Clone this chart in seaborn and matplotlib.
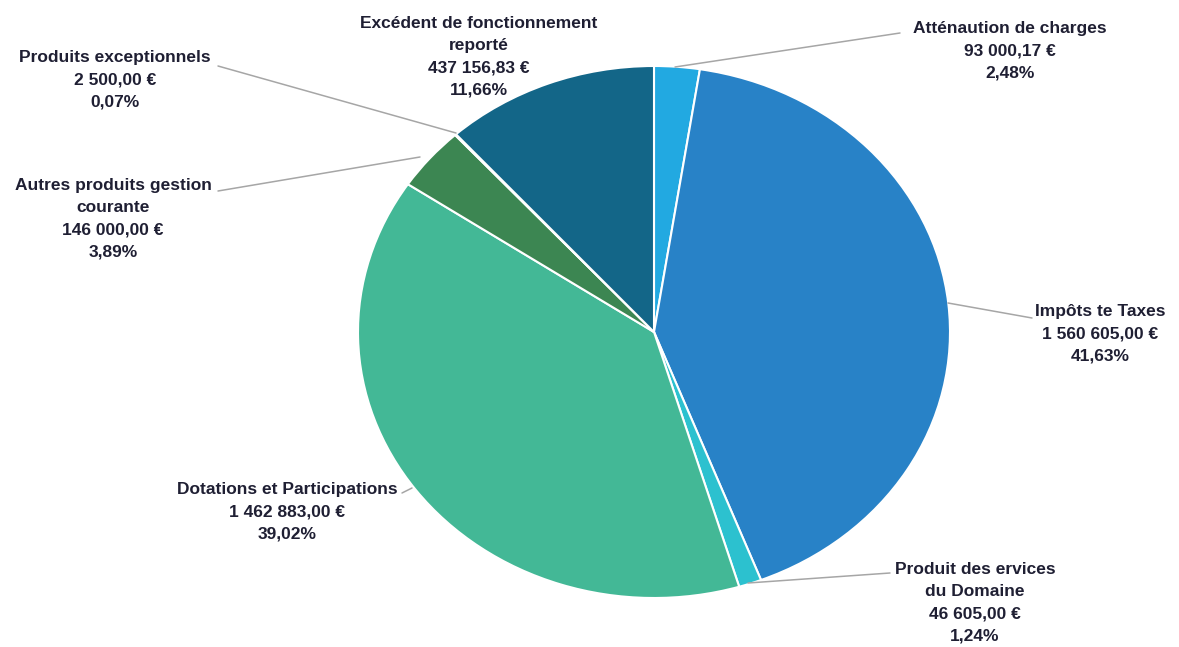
import matplotlib
matplotlib.use("Agg")
import matplotlib.pyplot as plt
import seaborn as sns
import numpy as np

# ---- données ----
labels = ["Atténaution de charges", "Impôts te Taxes", "Produit des ervices\ndu Domaine",
          "Dotations et Participations", "Autres produits gestion\ncourante",
          "Produits exceptionnels", "Excédent de fonctionnement\nreporté"]
montants = [93000.17, 1560605.00, 46605.00, 1462883.00, 146000.00, 2500.00, 437156.83]
couleurs = ["#22A9E1", "#2882C7", "#2CC1CF", "#43B896", "#3C8652", "#2F7A6A", "#136688"]

sns.set_theme(style="white")
plt.rcParams['font.family'] = ['Liberation Sans', 'DejaVu Sans']

W, H = 1179, 647
fig = plt.figure(figsize=(W / 100, H / 100), dpi=100)

# ellipse du camembert (en pixels)
cx, cy, rx, ry = 654, 332, 296, 266
ax = fig.add_axes([(cx - rx) / W, 1 - (cy + ry) / H, 2 * rx / W, 2 * ry / H])
ax.pie(montants, colors=sns.color_palette(couleurs), startangle=90, counterclock=False,
       radius=1, wedgeprops=dict(edgecolor="white", linewidth=1.5))
ax.set_xlim(-1, 1)
ax.set_ylim(-1, 1)
ax.set_aspect("auto")
ax.axis("off")

total = sum(montants)

def fr(v):
    s = f"{v:,.2f}".replace(",", " ").replace(".", ",")
    return s + " €"

# position du texte (centre, haut) et ligne de rappel (pixels)
txt_pos = [(1010, 21), (1100, 304), (975, 562), (287, 482), (113, 178), (115, 50), (479, 16)]
lignes = [[(675, 67), (900, 33)], [(948, 303), (1032, 318)], [(748, 583), (890, 573)],
          [(412, 488), (402, 493)], [(420, 157), (218, 191)], [(456, 133), (218, 66)], None]

def px(x, y):
    return x / W, 1 - y / H

for lab, m, (tx, ty), ln in zip(labels, montants, txt_pos, lignes):
    pct = f"{m / total * 100:.2f}%".replace(".", ",")
    s = f"{lab}\n{fr(m)}\n{pct}"
    fig.text(*px(tx, ty), s, ha="center", va="top", fontsize=12.5, fontweight="bold",
             color="#1f1f33", linespacing=1.6)
    if ln is not None:
        (x0, y0), (x1, y1) = ln
        fig.add_artist(plt.Line2D([x0 / W, x1 / W], [1 - y0 / H, 1 - y1 / H],
                                  color="#a6a6a6", lw=1.1, transform=fig.transFigure))

fig.savefig("out.png", dpi=100, facecolor="white")
